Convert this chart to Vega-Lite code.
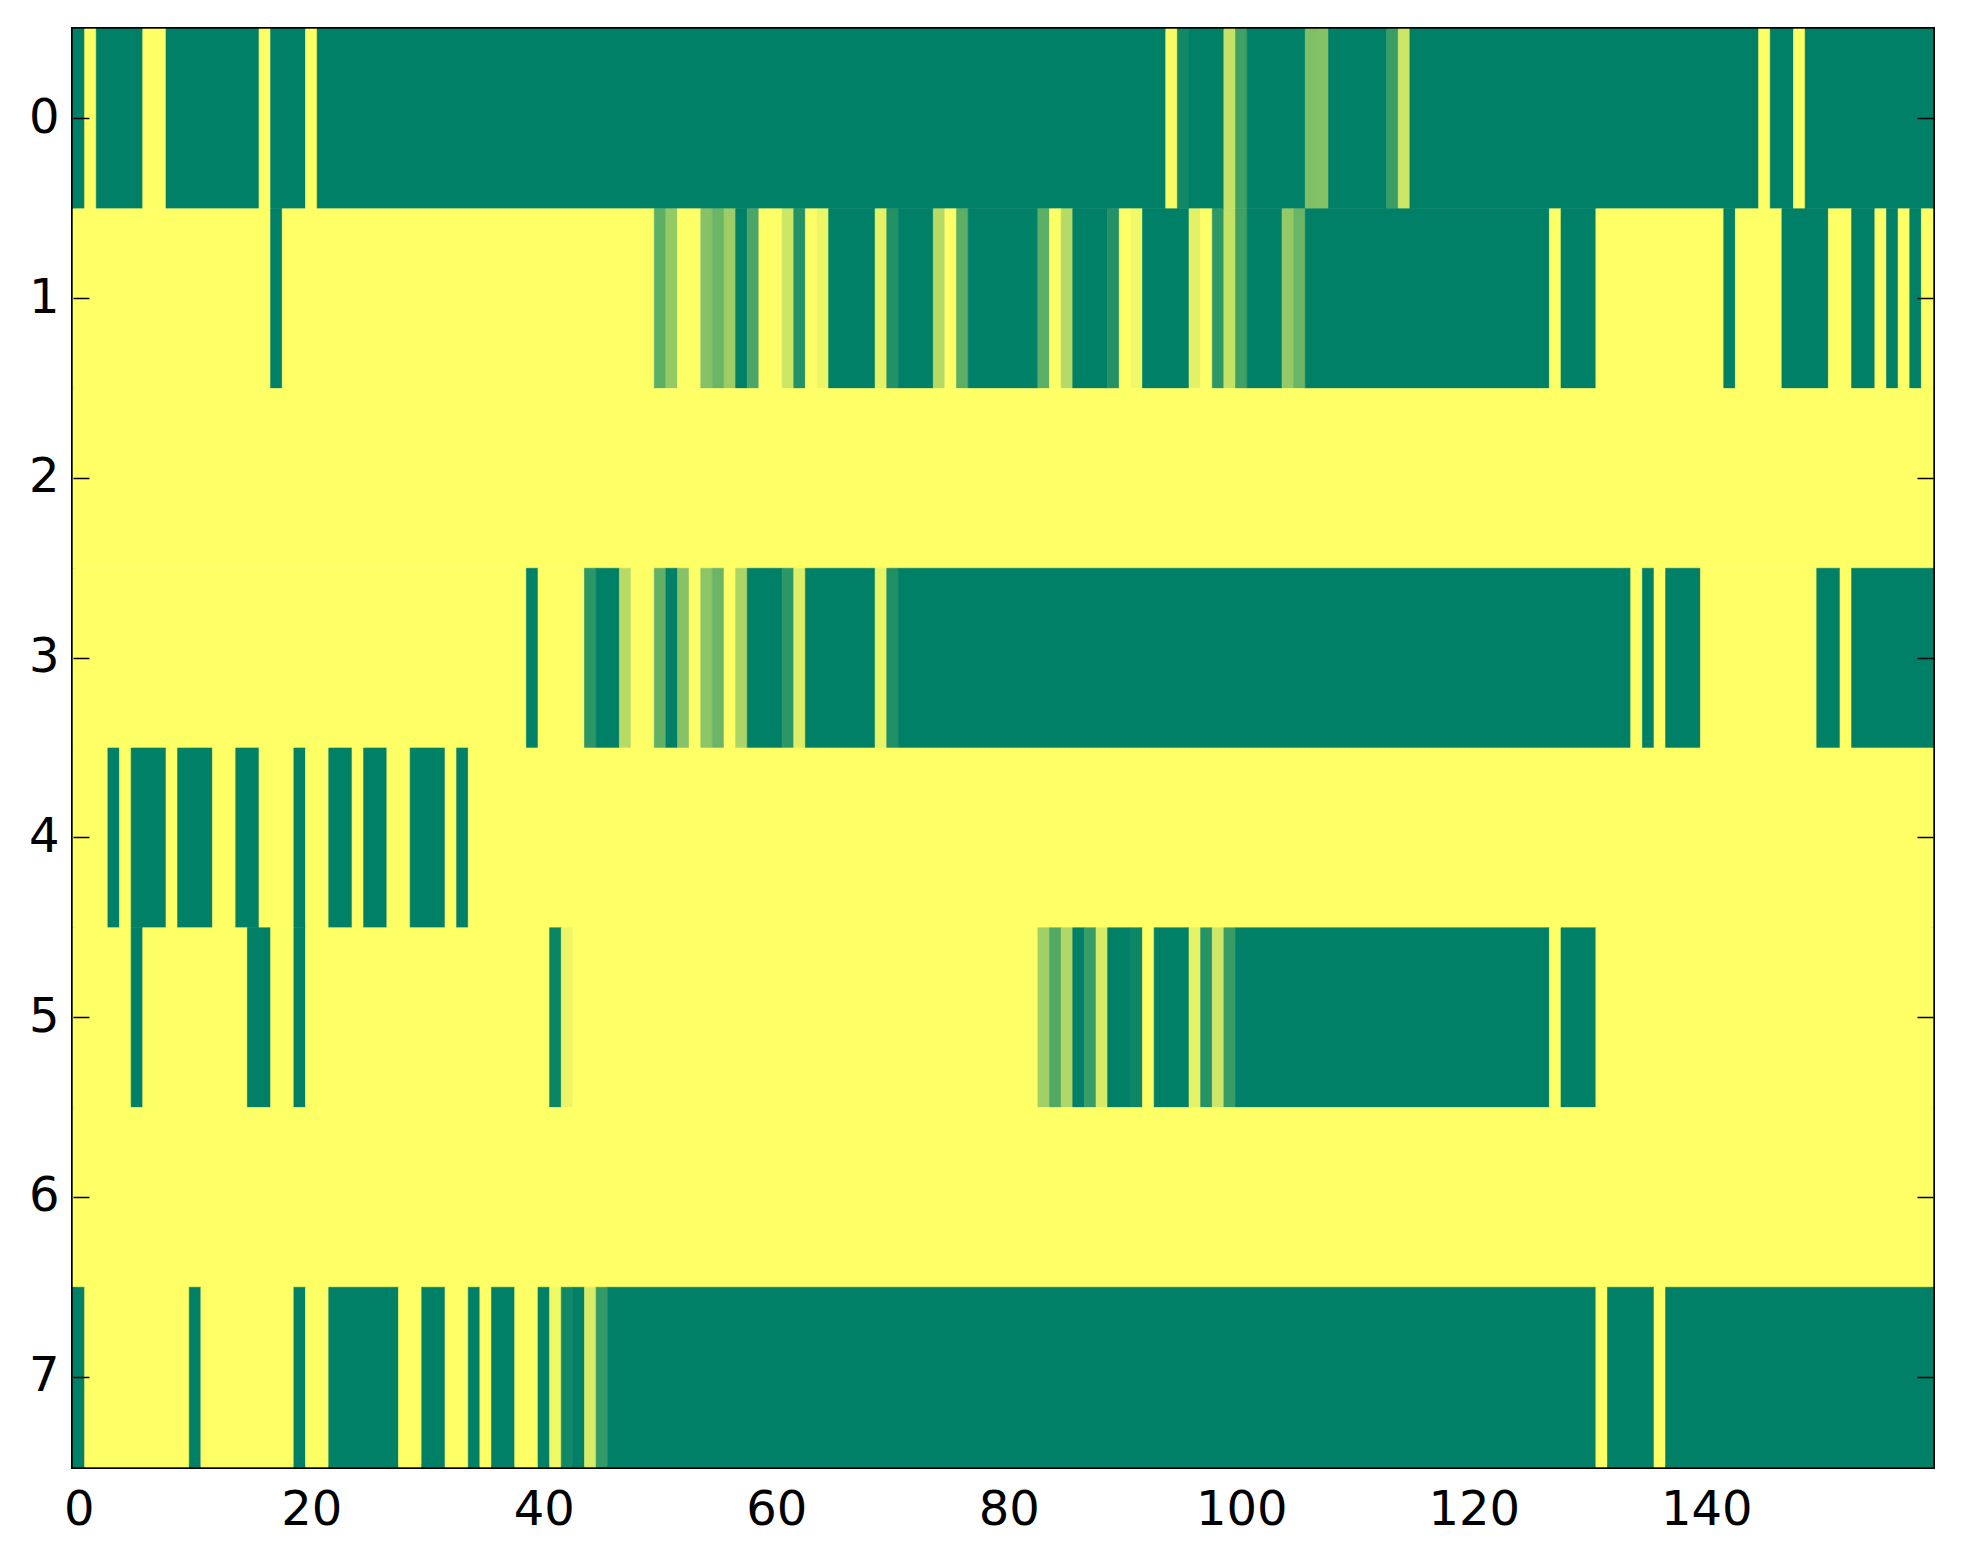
{
  "$schema": "https://vega.github.io/schema/vega-lite/v6.json",
  "width": 1860,
  "height": 1438,
  "autosize": {"type": "none"},
  "padding": {"left": 73, "top": 29, "right": 30, "bottom": 97},
  "background": "white",
  "data": {
    "values": [
      {"row": 0, "start": -0.5, "end": 0.5, "value": 0},
      {"row": 0, "start": 0.5, "end": 1.5, "value": 1},
      {"row": 0, "start": 1.5, "end": 5.5, "value": 0},
      {"row": 0, "start": 5.5, "end": 7.5, "value": 1},
      {"row": 0, "start": 7.5, "end": 15.5, "value": 0},
      {"row": 0, "start": 15.5, "end": 16.5, "value": 1},
      {"row": 0, "start": 16.5, "end": 19.5, "value": 0},
      {"row": 0, "start": 19.5, "end": 20.5, "value": 1},
      {"row": 0, "start": 20.5, "end": 93.5, "value": 0},
      {"row": 0, "start": 93.5, "end": 94.5, "value": 0.97},
      {"row": 0, "start": 94.5, "end": 95.5, "value": 0.07},
      {"row": 0, "start": 95.5, "end": 98.5, "value": 0},
      {"row": 0, "start": 98.5, "end": 99.5, "value": 0.77},
      {"row": 0, "start": 99.5, "end": 100.5, "value": 0.25},
      {"row": 0, "start": 100.5, "end": 105.5, "value": 0},
      {"row": 0, "start": 105.5, "end": 106.5, "value": 0.5},
      {"row": 0, "start": 106.5, "end": 107.5, "value": 0.52},
      {"row": 0, "start": 107.5, "end": 112.5, "value": 0},
      {"row": 0, "start": 112.5, "end": 113.5, "value": 0.23},
      {"row": 0, "start": 113.5, "end": 114.5, "value": 0.8},
      {"row": 0, "start": 114.5, "end": 144.5, "value": 0},
      {"row": 0, "start": 144.5, "end": 145.5, "value": 1},
      {"row": 0, "start": 145.5, "end": 147.5, "value": 0},
      {"row": 0, "start": 147.5, "end": 148.5, "value": 1},
      {"row": 0, "start": 148.5, "end": 159.5, "value": 0},

      {"row": 1, "start": -0.5, "end": 16.5, "value": 1},
      {"row": 1, "start": 16.5, "end": 17.5, "value": 0},
      {"row": 1, "start": 17.5, "end": 49.5, "value": 1},
      {"row": 1, "start": 49.5, "end": 50.5, "value": 0.37},
      {"row": 1, "start": 50.5, "end": 51.5, "value": 0.58},
      {"row": 1, "start": 51.5, "end": 53.5, "value": 1},
      {"row": 1, "start": 53.5, "end": 54.5, "value": 0.53},
      {"row": 1, "start": 54.5, "end": 55.5, "value": 0.42},
      {"row": 1, "start": 55.5, "end": 56.5, "value": 0.61},
      {"row": 1, "start": 56.5, "end": 57.5, "value": 0},
      {"row": 1, "start": 57.5, "end": 58.5, "value": 0.29},
      {"row": 1, "start": 58.5, "end": 60.5, "value": 1},
      {"row": 1, "start": 60.5, "end": 61.5, "value": 0.8},
      {"row": 1, "start": 61.5, "end": 62.5, "value": 0.14},
      {"row": 1, "start": 62.5, "end": 63.5, "value": 1},
      {"row": 1, "start": 63.5, "end": 64.5, "value": 0.93},
      {"row": 1, "start": 64.5, "end": 68.5, "value": 0},
      {"row": 1, "start": 68.5, "end": 69.5, "value": 0.9},
      {"row": 1, "start": 69.5, "end": 70.5, "value": 0.13},
      {"row": 1, "start": 70.5, "end": 73.5, "value": 0},
      {"row": 1, "start": 73.5, "end": 74.5, "value": 0.71},
      {"row": 1, "start": 74.5, "end": 75.5, "value": 1},
      {"row": 1, "start": 75.5, "end": 76.5, "value": 0.37},
      {"row": 1, "start": 76.5, "end": 82.5, "value": 0},
      {"row": 1, "start": 82.5, "end": 83.5, "value": 0.37},
      {"row": 1, "start": 83.5, "end": 84.5, "value": 1},
      {"row": 1, "start": 84.5, "end": 85.5, "value": 0.71},
      {"row": 1, "start": 85.5, "end": 88.5, "value": 0},
      {"row": 1, "start": 88.5, "end": 89.5, "value": 0.14},
      {"row": 1, "start": 89.5, "end": 90.5, "value": 1},
      {"row": 1, "start": 90.5, "end": 91.5, "value": 0.95},
      {"row": 1, "start": 91.5, "end": 95.5, "value": 0},
      {"row": 1, "start": 95.5, "end": 96.5, "value": 0.89},
      {"row": 1, "start": 96.5, "end": 97.5, "value": 1},
      {"row": 1, "start": 97.5, "end": 98.5, "value": 0.18},
      {"row": 1, "start": 98.5, "end": 99.5, "value": 0.77},
      {"row": 1, "start": 99.5, "end": 100.5, "value": 0.25},
      {"row": 1, "start": 100.5, "end": 103.5, "value": 0},
      {"row": 1, "start": 103.5, "end": 104.5, "value": 0.58},
      {"row": 1, "start": 104.5, "end": 105.5, "value": 0.42},
      {"row": 1, "start": 105.5, "end": 126.5, "value": 0},
      {"row": 1, "start": 126.5, "end": 127.5, "value": 1},
      {"row": 1, "start": 127.5, "end": 130.5, "value": 0},
      {"row": 1, "start": 130.5, "end": 141.5, "value": 1},
      {"row": 1, "start": 141.5, "end": 142.5, "value": 0},
      {"row": 1, "start": 142.5, "end": 146.5, "value": 1},
      {"row": 1, "start": 146.5, "end": 150.5, "value": 0},
      {"row": 1, "start": 150.5, "end": 152.5, "value": 1},
      {"row": 1, "start": 152.5, "end": 154.5, "value": 0},
      {"row": 1, "start": 154.5, "end": 155.5, "value": 1},
      {"row": 1, "start": 155.5, "end": 156.5, "value": 0},
      {"row": 1, "start": 156.5, "end": 157.5, "value": 1},
      {"row": 1, "start": 157.5, "end": 158.5, "value": 0},
      {"row": 1, "start": 158.5, "end": 159.5, "value": 1},

      {"row": 2, "start": -0.5, "end": 159.5, "value": 1},

      {"row": 3, "start": -0.5, "end": 38.5, "value": 1},
      {"row": 3, "start": 38.5, "end": 39.5, "value": 0},
      {"row": 3, "start": 39.5, "end": 43.5, "value": 1},
      {"row": 3, "start": 43.5, "end": 44.5, "value": 0.17},
      {"row": 3, "start": 44.5, "end": 46.5, "value": 0},
      {"row": 3, "start": 46.5, "end": 47.5, "value": 0.72},
      {"row": 3, "start": 47.5, "end": 49.5, "value": 1},
      {"row": 3, "start": 49.5, "end": 50.5, "value": 0.38},
      {"row": 3, "start": 50.5, "end": 51.5, "value": 0},
      {"row": 3, "start": 51.5, "end": 52.5, "value": 0.53},
      {"row": 3, "start": 52.5, "end": 53.5, "value": 1},
      {"row": 3, "start": 53.5, "end": 54.5, "value": 0.55},
      {"row": 3, "start": 54.5, "end": 55.5, "value": 0.42},
      {"row": 3, "start": 55.5, "end": 56.5, "value": 1},
      {"row": 3, "start": 56.5, "end": 57.5, "value": 0.67},
      {"row": 3, "start": 57.5, "end": 60.5, "value": 0},
      {"row": 3, "start": 60.5, "end": 61.5, "value": 0.17},
      {"row": 3, "start": 61.5, "end": 62.5, "value": 0.87},
      {"row": 3, "start": 62.5, "end": 68.5, "value": 0},
      {"row": 3, "start": 68.5, "end": 69.5, "value": 0.91},
      {"row": 3, "start": 69.5, "end": 70.5, "value": 0.12},
      {"row": 3, "start": 70.5, "end": 133.5, "value": 0},
      {"row": 3, "start": 133.5, "end": 134.5, "value": 1},
      {"row": 3, "start": 134.5, "end": 135.5, "value": 0},
      {"row": 3, "start": 135.5, "end": 136.5, "value": 1},
      {"row": 3, "start": 136.5, "end": 139.5, "value": 0},
      {"row": 3, "start": 139.5, "end": 149.5, "value": 1},
      {"row": 3, "start": 149.5, "end": 151.5, "value": 0},
      {"row": 3, "start": 151.5, "end": 152.5, "value": 1},
      {"row": 3, "start": 152.5, "end": 159.5, "value": 0},

      {"row": 4, "start": -0.5, "end": 2.5, "value": 1},
      {"row": 4, "start": 2.5, "end": 3.5, "value": 0},
      {"row": 4, "start": 3.5, "end": 4.5, "value": 1},
      {"row": 4, "start": 4.5, "end": 7.5, "value": 0},
      {"row": 4, "start": 7.5, "end": 8.5, "value": 1},
      {"row": 4, "start": 8.5, "end": 11.5, "value": 0},
      {"row": 4, "start": 11.5, "end": 13.5, "value": 1},
      {"row": 4, "start": 13.5, "end": 15.5, "value": 0},
      {"row": 4, "start": 15.5, "end": 18.5, "value": 1},
      {"row": 4, "start": 18.5, "end": 19.5, "value": 0},
      {"row": 4, "start": 19.5, "end": 21.5, "value": 1},
      {"row": 4, "start": 21.5, "end": 23.5, "value": 0},
      {"row": 4, "start": 23.5, "end": 24.5, "value": 1},
      {"row": 4, "start": 24.5, "end": 26.5, "value": 0},
      {"row": 4, "start": 26.5, "end": 28.5, "value": 1},
      {"row": 4, "start": 28.5, "end": 31.5, "value": 0},
      {"row": 4, "start": 31.5, "end": 32.5, "value": 1},
      {"row": 4, "start": 32.5, "end": 33.5, "value": 0},
      {"row": 4, "start": 33.5, "end": 159.5, "value": 1},

      {"row": 5, "start": -0.5, "end": 4.5, "value": 1},
      {"row": 5, "start": 4.5, "end": 5.5, "value": 0},
      {"row": 5, "start": 5.5, "end": 14.5, "value": 1},
      {"row": 5, "start": 14.5, "end": 16.5, "value": 0},
      {"row": 5, "start": 16.5, "end": 18.5, "value": 1},
      {"row": 5, "start": 18.5, "end": 19.5, "value": 0},
      {"row": 5, "start": 19.5, "end": 40.5, "value": 1},
      {"row": 5, "start": 40.5, "end": 41.5, "value": 0.04},
      {"row": 5, "start": 41.5, "end": 42.5, "value": 0.92},
      {"row": 5, "start": 42.5, "end": 82.5, "value": 1},
      {"row": 5, "start": 82.5, "end": 83.5, "value": 0.63},
      {"row": 5, "start": 83.5, "end": 84.5, "value": 0.32},
      {"row": 5, "start": 84.5, "end": 85.5, "value": 0.69},
      {"row": 5, "start": 85.5, "end": 86.5, "value": 0},
      {"row": 5, "start": 86.5, "end": 87.5, "value": 0.22},
      {"row": 5, "start": 87.5, "end": 88.5, "value": 0.84},
      {"row": 5, "start": 88.5, "end": 90.5, "value": 0},
      {"row": 5, "start": 90.5, "end": 91.5, "value": 0.05},
      {"row": 5, "start": 91.5, "end": 92.5, "value": 1},
      {"row": 5, "start": 92.5, "end": 95.5, "value": 0},
      {"row": 5, "start": 95.5, "end": 96.5, "value": 0.9},
      {"row": 5, "start": 96.5, "end": 97.5, "value": 0.15},
      {"row": 5, "start": 97.5, "end": 98.5, "value": 0.81},
      {"row": 5, "start": 98.5, "end": 99.5, "value": 0.22},
      {"row": 5, "start": 99.5, "end": 126.5, "value": 0},
      {"row": 5, "start": 126.5, "end": 127.5, "value": 1},
      {"row": 5, "start": 127.5, "end": 130.5, "value": 0},
      {"row": 5, "start": 130.5, "end": 159.5, "value": 1},

      {"row": 6, "start": -0.5, "end": 159.5, "value": 1},

      {"row": 7, "start": -0.5, "end": 0.5, "value": 0},
      {"row": 7, "start": 0.5, "end": 9.5, "value": 1},
      {"row": 7, "start": 9.5, "end": 10.5, "value": 0},
      {"row": 7, "start": 10.5, "end": 18.5, "value": 1},
      {"row": 7, "start": 18.5, "end": 19.5, "value": 0},
      {"row": 7, "start": 19.5, "end": 21.5, "value": 1},
      {"row": 7, "start": 21.5, "end": 27.5, "value": 0},
      {"row": 7, "start": 27.5, "end": 29.5, "value": 1},
      {"row": 7, "start": 29.5, "end": 31.5, "value": 0},
      {"row": 7, "start": 31.5, "end": 33.5, "value": 1},
      {"row": 7, "start": 33.5, "end": 34.5, "value": 0},
      {"row": 7, "start": 34.5, "end": 35.5, "value": 1},
      {"row": 7, "start": 35.5, "end": 37.5, "value": 0},
      {"row": 7, "start": 37.5, "end": 39.5, "value": 1},
      {"row": 7, "start": 39.5, "end": 40.5, "value": 0},
      {"row": 7, "start": 40.5, "end": 41.5, "value": 0.95},
      {"row": 7, "start": 41.5, "end": 42.5, "value": 0.07},
      {"row": 7, "start": 42.5, "end": 43.5, "value": 0},
      {"row": 7, "start": 43.5, "end": 44.5, "value": 0.85},
      {"row": 7, "start": 44.5, "end": 45.5, "value": 0.2},
      {"row": 7, "start": 45.5, "end": 130.5, "value": 0},
      {"row": 7, "start": 130.5, "end": 131.5, "value": 1},
      {"row": 7, "start": 131.5, "end": 135.5, "value": 0},
      {"row": 7, "start": 135.5, "end": 136.5, "value": 1},
      {"row": 7, "start": 136.5, "end": 159.5, "value": 0}
    ]
  },
  "encoding": {
    "y": {
      "field": "row",
      "type": "ordinal",
      "title": null,
      "scale": {"paddingInner": 0, "paddingOuter": 0}
    },
    "x": {
      "field": "start",
      "type": "quantitative",
      "title": null,
      "scale": {"domain": [-0.5, 159.5], "nice": false, "zero": false}
    },
    "x2": {"field": "end"},
    "color": {
      "field": "value",
      "type": "quantitative",
      "legend": null,
      "scale": {"domain": [0, 1], "range": ["#008066", "#ffff66"], "interpolate": "rgb"}
    }
  },
  "layer": [
    {
      "mark": {"type": "rect", "strokeWidth": 0.6},
      "encoding": {
        "stroke": {
          "field": "value",
          "type": "quantitative",
          "legend": null,
          "scale": {"domain": [0, 1], "range": ["#008066", "#ffff66"], "interpolate": "rgb"}
        },
        "x": {
          "field": "start",
          "type": "quantitative",
          "title": null,
          "axis": {
            "orient": "bottom",
            "values": [0, 20, 40, 60, 80, 100, 120, 140],
            "tickSize": -16,
            "labelPadding": 35
          }
        },
        "y": {
          "field": "row",
          "type": "ordinal",
          "title": null,
          "axis": {"orient": "left", "tickSize": -16, "labelPadding": 30, "bandPosition": 0.5}
        }
      }
    },
    {
      "mark": {"type": "rect", "opacity": 0},
      "encoding": {
        "x": {
          "field": "start",
          "type": "quantitative",
          "title": null,
          "axis": {
            "orient": "top",
            "values": [0, 20, 40, 60, 80, 100, 120, 140],
            "tickSize": -16,
            "labels": false
          }
        },
        "y": {
          "field": "row",
          "type": "ordinal",
          "title": null,
          "axis": {"orient": "right", "tickSize": -16, "labels": false, "bandPosition": 0.5}
        }
      }
    }
  ],
  "resolve": {"axis": {"x": "independent", "y": "independent"}},
  "config": {
    "view": {"stroke": "black", "strokeWidth": 4},
    "axis": {
      "domain": false,
      "grid": false,
      "ticks": true,
      "tickColor": "black",
      "tickWidth": 1.5,
      "labelFont": "DejaVu Sans",
      "labelFontSize": 48,
      "labelColor": "black",
      "labelAngle": 0
    }
  }
}
